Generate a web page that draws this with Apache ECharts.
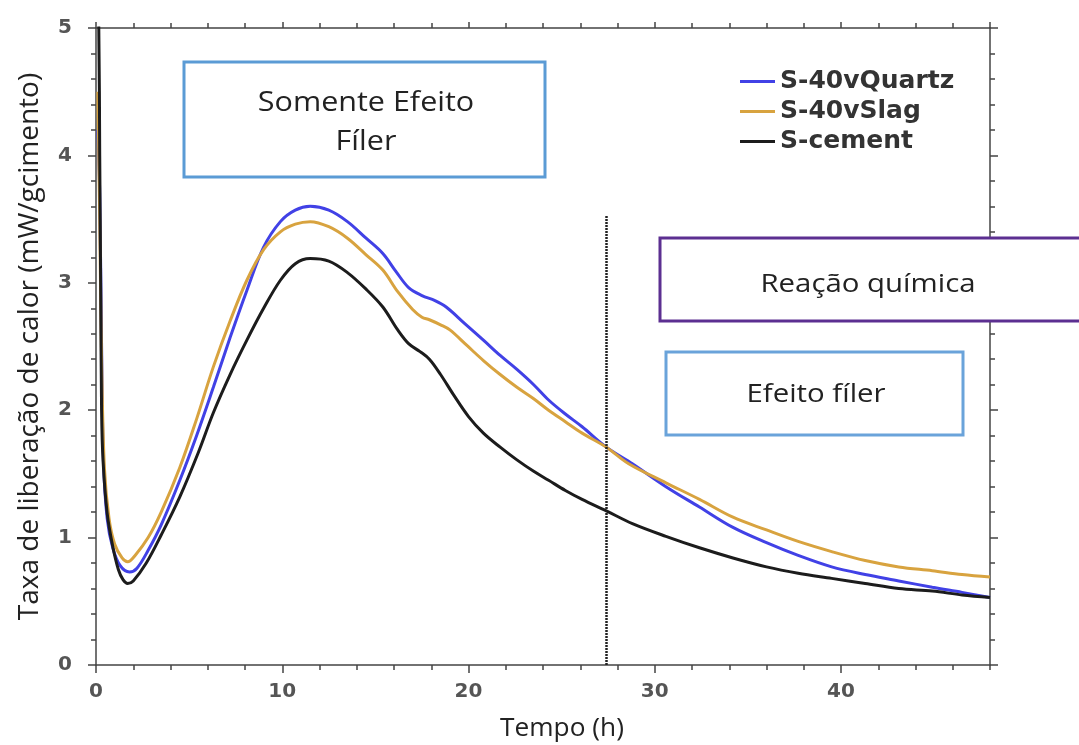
<!DOCTYPE html>
<html>
<head>
<meta charset="utf-8">
<script src="https://cdn.jsdelivr.net/npm/echarts@6/dist/echarts.min.js"></script>
<style>html,body{margin:0;padding:0;background:#fff}#c{width:1079px;height:745px}</style>
</head>
<body>
<div id="c"></div>
<script>
// ---- data (time in h, heat flow in mW/g cement) ----
const seriesNames = ['S-40vQuartz', 'S-40vSlag', 'S-cement'];
const seriesColors = ['#4141e6', '#d8a33f', '#1c1c1c'];
const xTickLabels = ['0', '10', '20', '30', '40'];
const yTickLabels = ['0', '1', '2', '3', '4', '5'];
const dividerTime = 27.4;
const dividerTop = 3.53;

const quartzData = [
  [0.1, 4.2], [0.2, 3.7], [0.3, 2.5], [0.4, 1.6], [0.6, 1.15], [0.9, 0.92], [1.3, 0.78],
  [1.8, 0.73], [2.2, 0.76], [2.8, 0.9], [3.5, 1.1], [4.5, 1.45], [5.4, 1.8], [6.3, 2.18],
  [7.2, 2.57], [8.1, 2.94], [9.0, 3.28], [9.9, 3.48], [10.7, 3.57], [11.5, 3.6], [12.5, 3.57],
  [13.5, 3.48], [14.5, 3.35], [15.4, 3.23], [16.1, 3.09], [16.8, 2.96], [17.5, 2.9], [18.2, 2.86],
  [18.8, 2.81], [19.8, 2.68], [20.8, 2.55], [21.7, 2.43], [22.6, 2.32], [23.5, 2.2], [24.3, 2.08],
  [25.2, 1.97], [26.1, 1.87], [27.4, 1.71], [28.8, 1.58], [30.6, 1.4], [32.4, 1.24], [34.2, 1.08],
  [36.0, 0.96], [37.7, 0.86], [39.5, 0.77], [41.3, 0.71], [43.1, 0.66], [44.9, 0.61], [46.5, 0.57],
  [48.0, 0.53]
];
const slagData = [
  [0.1, 4.5], [0.2, 3.5], [0.3, 2.4], [0.45, 1.55], [0.7, 1.15], [1.0, 0.95], [1.4, 0.84],
  [1.7, 0.81], [2.1, 0.86], [2.8, 1.0], [3.5, 1.2], [4.5, 1.55], [5.4, 1.93], [6.3, 2.34],
  [7.2, 2.7], [8.1, 3.02], [9.0, 3.26], [9.9, 3.4], [10.7, 3.46], [11.5, 3.48], [12.5, 3.44],
  [13.5, 3.35], [14.5, 3.22], [15.4, 3.1], [16.2, 2.93], [17.0, 2.79], [17.5, 2.73], [17.9, 2.71],
  [18.5, 2.67], [19.0, 2.63], [19.9, 2.51], [20.8, 2.39], [21.7, 2.28], [22.6, 2.18], [23.5, 2.09],
  [24.3, 2.0], [25.2, 1.91], [26.1, 1.82], [27.4, 1.71], [28.6, 1.58], [30.6, 1.43], [32.4, 1.3],
  [34.2, 1.16], [36.0, 1.06], [37.7, 0.97], [39.5, 0.89], [41.3, 0.82], [43.1, 0.77], [44.9, 0.74],
  [46.5, 0.71], [48.0, 0.69]
];
const cementData = [
  [0.05, 5.4], [0.15, 5.0], [0.2, 4.0], [0.25, 3.0], [0.3, 2.0], [0.38, 1.6], [0.6, 1.19],
  [0.9, 0.93], [1.2, 0.75], [1.45, 0.67], [1.7, 0.64], [2.0, 0.66], [2.7, 0.8], [3.5, 1.02],
  [4.5, 1.32], [5.5, 1.67], [6.3, 1.98], [7.2, 2.28], [8.1, 2.55], [9.0, 2.8], [9.9, 3.02],
  [10.7, 3.15], [11.5, 3.19], [12.5, 3.17], [13.5, 3.08], [14.5, 2.95], [15.4, 2.81], [16.2, 2.63],
  [16.8, 2.52], [17.4, 2.46], [17.9, 2.4], [18.5, 2.28], [19.2, 2.12], [20.0, 1.95], [20.8, 1.82],
  [21.7, 1.71], [22.6, 1.61], [23.5, 1.52], [24.3, 1.45], [25.2, 1.37], [26.1, 1.3], [27.4, 1.21],
  [28.8, 1.11], [30.6, 1.01], [32.4, 0.92], [34.2, 0.84], [36.0, 0.77], [37.7, 0.72], [39.5, 0.68],
  [41.3, 0.64], [43.1, 0.6], [44.9, 0.58], [46.5, 0.55], [48.0, 0.53]
];
const allData = [quartzData, slagData, cementData];

// ---- chart ----
const chart = echarts.init(document.getElementById('c'), null, {renderer: 'canvas'});
const axisColor = '#444';
const tickLabelStyle = {fontFamily: 'DejaVu Sans', fontWeight: 'bold', fontSize: 20, color: '#555'};
const calibriLike = 'Open Sans';

function xAxisDef(pos, interval, tickLen, showLine, showLabel) {
  return {
    type: 'value', min: 0, max: 48, interval: interval, position: pos,
    axisLine: {show: showLine, onZero: false, lineStyle: {color: axisColor, width: 1.5}},
    axisTick: {show: true, length: tickLen, lineStyle: {color: axisColor, width: 1.5}},
    axisLabel: showLabel ? Object.assign({
      margin: 17, showMaxLabel: false,
      formatter: v => xTickLabels.includes(String(v)) ? String(v) : ''
    }, tickLabelStyle) : {show: false},
    splitLine: {show: false}
  };
}
function yAxisDef(pos, showLabel) {
  const d = {
    type: 'value', min: 0, max: 5, interval: 1, position: pos,
    axisLine: {show: true, onZero: false, lineStyle: {color: axisColor, width: 1.5}},
    axisTick: {show: true, length: 8, lineStyle: {color: axisColor, width: 1.5}},
    minorTick: {show: true, splitNumber: 5, length: 5, lineStyle: {color: axisColor, width: 1.5}},
    splitLine: {show: false}, minorSplitLine: {show: false},
    axisLabel: showLabel ? Object.assign({
      margin: 24,
      formatter: v => yTickLabels.includes(String(v)) ? String(v) : ''
    }, tickLabelStyle) : {show: false}
  };
  if (showLabel) {
    d.name = 'Taxa de liberação de calor (mW/gcimento)';
    d.nameLocation = 'middle';
    d.nameGap = 52;
    d.nameTextStyle = {fontFamily: calibriLike, fontSize: 28, color: '#222'};
  }
  return d;
}

const series = allData.map((data, i) => ({
  name: seriesNames[i],
  type: 'line',
  data: data,
  xAxisIndex: 0, yAxisIndex: 0,
  showSymbol: false, symbol: 'none',
  smooth: 0.35,
  clip: true,
  lineStyle: {color: seriesColors[i], width: 3},
  itemStyle: {color: seriesColors[i]},
  z: 3 + i
}));
series[2].markLine = {
  silent: true, symbol: ['none', 'none'],
  label: {show: false},
  lineStyle: {type: [2, 1], color: '#222', width: 2.5},
  data: [[{coord: [dividerTime, 0]}, {coord: [dividerTime, dividerTop]}]]
};

function box(x, y, w, h, stroke) {
  return {type: 'rect', z: 100, shape: {x: x, y: y, width: w, height: h},
    style: {fill: '#fff', stroke: stroke, lineWidth: 3}};
}
function label(text, x, y, size, sx) {
  return {type: 'text', z: 101, x: x, y: y, scaleX: sx || 1,
    style: {text: text, x: 0, y: 0, align: 'center', verticalAlign: 'middle',
      fontFamily: calibriLike, fontSize: size, fill: '#222'}};
}

chart.setOption({
  animation: false,
  backgroundColor: '#fff',
  grid: {left: 96, top: 28, right: 89, bottom: 80, containLabel: false},
  legend: {
    data: seriesNames, orient: 'vertical', left: 735, top: 64,
    icon: 'rect', itemWidth: 35, itemHeight: 3, itemGap: 5,
    textStyle: {fontFamily: 'DejaVu Sans', fontWeight: 'bold', fontSize: 25, color: '#333'}
  },
  xAxis: [
    xAxisDef('bottom', 10, 8, true, true),
    xAxisDef('bottom', 2, 5, false, false),
    xAxisDef('top', 10, 6, true, false),
    xAxisDef('top', 2, 5, false, false)
  ],
  yAxis: [yAxisDef('left', true), yAxisDef('right', false)],
  series: series,
  graphic: [
    box(184, 62, 361, 115, '#5b9bd5'),
    label('Somente Efeito', 366, 103, 27, 1.13),
    label('Fíler', 366, 142, 27, 1.13),
    box(660, 238, 500, 83, '#5c2f91'),
    label('Reação química', 868, 285, 26, 1.13),
    box(666, 352, 297, 83, '#6aa3da'),
    label('Efeito fíler', 816, 395, 26, 1.13),
    label('Tempo (h)', 562, 729, 25, 1.05)
  ]
});
</script>
</body>
</html>
